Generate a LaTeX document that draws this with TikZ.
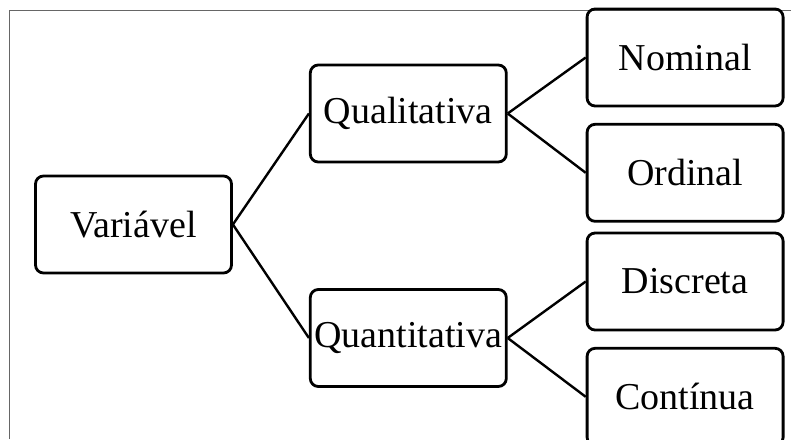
\documentclass[tikz,border=0pt]{standalone}
\usepackage{fontspec}
\setmainfont{Liberation Serif}
\usetikzlibrary{positioning}

\begin{document}
\begin{tikzpicture}
      \tikzstyle{box}=[rectangle, rounded corners=4pt, line width=1.4pt, draw=black, minimum width=98pt, minimum height=48.5pt, inner sep=0pt, font=\fontsize{19}{22}\selectfont]
      \tikzstyle{connect}=[line width=1.2pt, draw=black]
      \tikzstyle{frame}=[line width=0.6pt, draw=black!60]

      \useasboundingbox (-66.75pt,-107.25pt) rectangle (328.75pt,112.25pt);

      % moldura da figura
      \coordinate (fbot) at (-62pt,-107.25pt);
      \coordinate (ftop) at (-62pt,107pt);
      \coordinate (fright) at (328.75pt,107pt);
      \draw[frame] (fbot) -- (ftop) -- (fright);

      \node[box] (var) at (0,0) {Variável};
      \node[box] (qual) [right=38pt of var, yshift=55.5pt] {Qualitativa};
      \node[box] (quant) [right=38pt of var, yshift=-56.75pt] {Quantitativa};
      \node[box] (nom) [right=39pt of qual, yshift=28pt] {Nominal};
      \node[box] (ord) [below=7.75pt of nom] {Ordinal};
      \node[box] (disc) [right=39pt of quant, yshift=28.25pt] {Discreta};
      \node[box] (cont) [below=7.75pt of disc] {Contínua};

      \path (var.east) edge [connect] (qual.west)
            (var.east) edge [connect] (quant.west);

      \path (qual.east) edge [connect] (nom.west)
            (qual.east) edge [connect] (ord.west);

      \path (quant.east) edge [connect] (disc.west)
            (quant.east) edge [connect] (cont.west);
\end{tikzpicture}
\end{document}
